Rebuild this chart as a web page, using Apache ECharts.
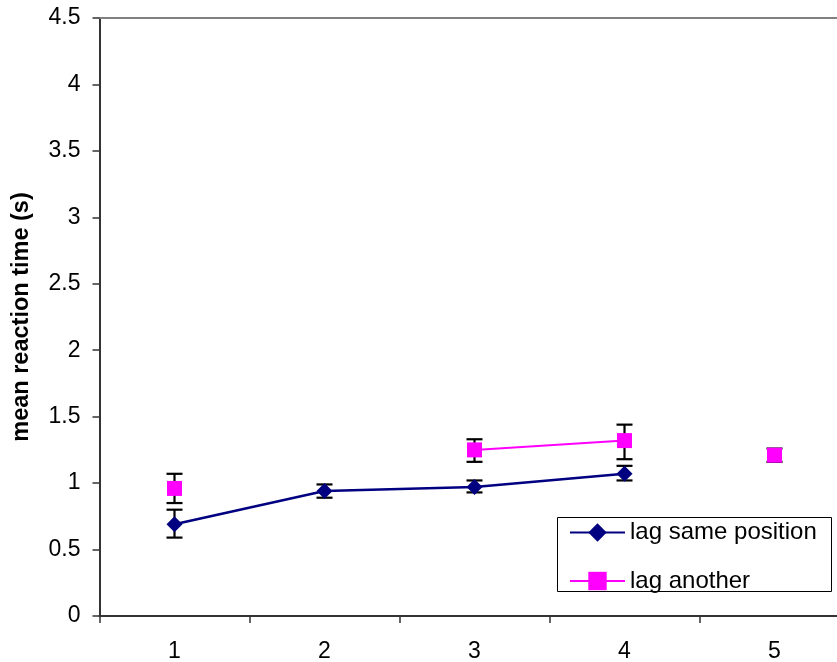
<!DOCTYPE html>
<html>
<head>
<meta charset="utf-8">
<script src="https://cdn.jsdelivr.net/npm/echarts@6/dist/echarts.min.js"></script>
<style>
html,body{margin:0;padding:0;background:#fff;}
#c{width:837px;height:662px;}
</style>
</head>
<body>
<div id="c"></div>
<script>
// ---- data ----
var categories = ['1', '2', '3', '4', '5'];
var yTicks = [0, 0.5, 1, 1.5, 2, 2.5, 3, 3.5, 4, 4.5];

var sameMean = [0.69, 0.94, 0.97, 1.07, null];
var sameLow  = [0.59, 0.89, 0.93, 1.02, null];
var sameHigh = [0.80, 0.99, 1.02, 1.13, null];

var anotherMean = [0.96, null, 1.25, 1.32, 1.21];
var anotherLow  = [0.85, null, 1.16, 1.18, 1.16];
var anotherHigh = [1.07, null, 1.33, 1.44, 1.26];
// point 5 of "lag another" is not joined to the others in the original
var anotherJoined = [true, true, true, true, false];

var NAVY = '#000080', MAGENTA = '#FF00FF';
var FONT = 'Liberation Sans, Arial, sans-serif';

function errData(low, high) {
  var out = [];
  for (var i = 0; i < low.length; i++) {
    if (low[i] != null) out.push([i, low[i], high[i]]);
  }
  return out;
}

function errRender(params, api) {
  var x = api.value(0);
  var lo = api.coord([x, api.value(1)]);
  var hi = api.coord([x, api.value(2)]);
  var hw = 8;
  var st = {stroke: '#000', lineWidth: 2.2};
  return {
    type: 'group',
    children: [
      {type: 'line', shape: {x1: lo[0], y1: lo[1], x2: hi[0], y2: hi[1]}, style: st},
      {type: 'line', shape: {x1: lo[0] - hw, y1: lo[1], x2: lo[0] + hw, y2: lo[1]}, style: st},
      {type: 'line', shape: {x1: hi[0] - hw, y1: hi[1], x2: hi[0] + hw, y2: hi[1]}, style: st}
    ]
  };
}

var chart = echarts.init(document.getElementById('c'), null, {renderer: 'canvas'});
chart.setOption({
  animation: false,
  backgroundColor: '#fff',
  grid: {left: 99.5, top: 18, height: 598, width: 750, containLabel: false, outerBoundsMode: 'none'},
  legend: {
    orient: 'vertical',
    left: 569,
    top: 520.5,
    padding: 0,
    itemWidth: 55,
    itemHeight: 23,
    itemGap: 24.5,
    data: ['lag same position', 'lag another'],
    textStyle: {fontFamily: FONT, fontSize: 24, color: '#000'}
  },
  graphic: [{
    type: 'rect',
    left: 555, top: 515,
    shape: {width: 274, height: 74},
    style: {fill: 'none', stroke: '#000', lineWidth: 1},
    z: 100
  }],
  xAxis: [{
    type: 'category',
    data: categories,
    boundaryGap: true,
    axisLine: {lineStyle: {color: '#333', width: 2}},
    axisTick: {show: true, length: 7, inside: false, lineStyle: {color: '#333', width: 1.5}},
    axisLabel: {fontFamily: FONT, fontSize: 23, color: '#000', margin: 24},
    splitLine: {show: false}
  }, {
    type: 'category',
    data: categories,
    position: 'top',
    axisLine: {show: true, lineStyle: {color: '#808080', width: 2}},
    axisTick: {show: false},
    axisLabel: {show: false}
  }],
  yAxis: {
    type: 'value',
    min: yTicks[0],
    max: yTicks[yTicks.length - 1],
    interval: 0.5,
    name: 'mean reaction time (s)',
    nameLocation: 'middle',
    nameGap: 66,
    nameRotate: 90,
    nameTextStyle: {fontFamily: FONT, fontSize: 23.5, fontWeight: 'bold', color: '#000'},
    axisLine: {show: true, lineStyle: {color: '#333', width: 2}},
    axisTick: {show: true, length: 7, lineStyle: {color: '#333', width: 1.5}},
    axisLabel: {fontFamily: FONT, fontSize: 23, color: '#000', margin: 19},
    splitLine: {show: false}
  },
  series: [
    {
      name: 'err same', type: 'custom', renderItem: errRender,
      data: errData(sameLow, sameHigh), z: 1, silent: true
    },
    {
      name: 'err another', type: 'custom', renderItem: errRender,
      data: errData(anotherLow, anotherHigh), z: 1, silent: true
    },
    {
      name: 'lag same position', type: 'line', data: sameMean,
      symbol: 'diamond', symbolSize: 16, connectNulls: false,
      lineStyle: {color: NAVY, width: 2.5},
      itemStyle: {color: NAVY},
      z: 3
    },
    {
      name: 'lag another', type: 'line',
      data: anotherMean.map(function (v, i) { return anotherJoined[i] ? v : null; }),
      symbol: 'rect', symbolSize: 15, connectNulls: false,
      lineStyle: {color: MAGENTA, width: 2},
      itemStyle: {color: MAGENTA},
      z: 4
    },
    {
      name: 'lag another', type: 'line',
      data: anotherMean.map(function (v, i) { return anotherJoined[i] ? null : v; }),
      symbol: 'rect', symbolSize: 15, connectNulls: false,
      lineStyle: {color: MAGENTA, width: 2},
      itemStyle: {color: MAGENTA},
      z: 4
    }
  ]
});
</script>
</body>
</html>
